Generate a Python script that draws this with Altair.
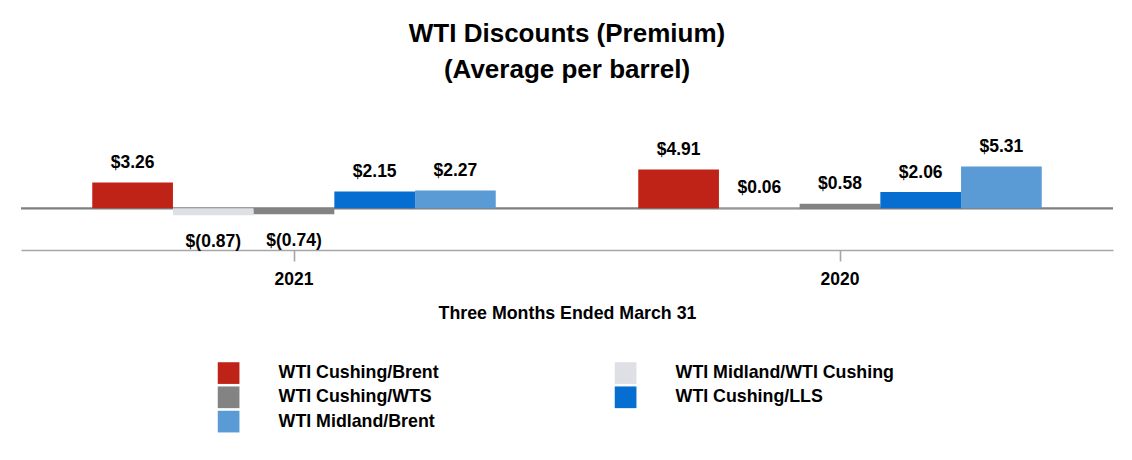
import altair as alt
import pandas as pd

periods = ["2021", "2020"]
series = [
    "WTI Cushing/Brent",
    "WTI Midland/WTI Cushing",
    "WTI Cushing/WTS",
    "WTI Cushing/LLS",
    "WTI Midland/Brent",
]
colors = ["#BF2318", "#DFE0E5", "#838383", "#066DD1", "#5B9BD5"]
values_2021 = [3.26, -0.87, -0.74, 2.15, 2.27]
values_2020 = [4.91, 0.06, 0.58, 2.06, 5.31]


def fmt(v):
    return f"${v:.2f}" if v >= 0 else f"$({-v:.2f})"


rows = []
for p, vals in zip(periods, [values_2021, values_2020]):
    for s, v in zip(series, vals):
        rows.append({"period": p, "series": s, "value": v, "label": fmt(v)})
df = pd.DataFrame(rows)

SANS = "Liberation Sans, Arial"

x_enc = alt.X(
    "period:N",
    sort=periods,
    scale=alt.Scale(paddingInner=0.261, paddingOuter=0.1305),
    axis=alt.Axis(
        title="Three Months Ended March 31",
        labelAngle=0,
        labelFont=SANS,
        labelFontSize=17.5,
        labelFontWeight="bold",
        labelColor="black",
        labelPadding=9,
        titleFont=SANS,
        titleFontSize=17.8,
        titleFontWeight="bold",
        titleColor="black",
        titlePadding=17,
        domainColor="#A6A6A6",
        domainWidth=1.6,
        tickColor="#A6A6A6",
        tickWidth=1.6,
        tickSize=11,
    ),
)
xoff = alt.XOffset("series:N", sort=series, scale=alt.Scale(paddingInner=0, paddingOuter=0))
y_enc = alt.Y("value:Q", scale=alt.Scale(domain=[-5.28, 6], nice=False), axis=None)

base = alt.Chart(df)

zero = alt.Chart(pd.DataFrame({"zero": [0]})).mark_rule(color="#7F7F7F", strokeWidth=2.2).encode(
    y=alt.Y("zero:Q", scale=alt.Scale(domain=[-5.28, 6], nice=False), axis=None)
)

bars = base.mark_bar().encode(
    x=x_enc,
    xOffset=xoff,
    y=y_enc,
    color=alt.Color(
        "series:N",
        sort=series,
        scale=alt.Scale(domain=series, range=colors),
        legend=alt.Legend(
            title=None,
            orient="none",
            legendX=196.6,
            legendY=201,
            columns=2,
            direction="horizontal",
            symbolType="square",
            symbolSize=471,
            symbolStrokeWidth=0,
            labelFont=SANS,
            labelFontSize=17.8,
            labelFontWeight="bold",
            labelColor="black",
            labelOffset=39,
            rowPadding=2.3,
            columnPadding=175,
            padding=0,
            labelLimit=400,
        ),
    ),
)

pos_labels = base.transform_filter("datum.value >= 0").mark_text(
    font=SANS, fontSize=17.5, fontWeight="bold", color="black", baseline="middle", dy=-19.5
).encode(x=x_enc, xOffset=xoff, y=y_enc, text="label:N")

neg_labels = base.transform_filter("datum.value < 0").mark_text(
    font=SANS, fontSize=17.5, fontWeight="bold", color="black", baseline="middle", dy=27
).encode(x=x_enc, xOffset=xoff, y=y_enc, text="label:N")

chart = (
    alt.layer(zero, bars, pos_labels, neg_labels)
    .properties(
        width=1092,
        height=89,
        background="white",
        padding={"left": 11, "top": 12, "right": 5, "bottom": 5},
        title=alt.TitleParams(
            ["WTI Discounts (Premium)", "(Average per barrel)"],
            font=SANS,
            fontSize=26,
            fontWeight="bold",
            color="black",
            lineHeight=36,
            offset=55,
        ),
    )
    .configure_view(strokeWidth=0, stroke=None)
)

chart.save("out.html", embed_options={"renderer": "svg", "actions": False})
